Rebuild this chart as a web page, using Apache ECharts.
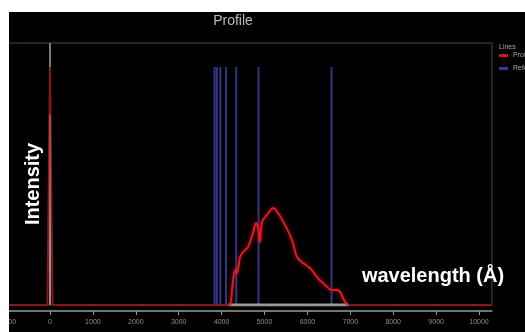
<!DOCTYPE html>
<html>
<head>
<meta charset="utf-8">
<script src="https://cdn.jsdelivr.net/npm/echarts@6/dist/echarts.min.js"></script>
<style>
  html, body { margin: 0; padding: 0; background: #fff; }
  #profile { position: absolute; left: 9px; top: 12px; width: 516px; height: 320px; background: #000; }
</style>
</head>
<body>
<div id="profile"></div>
<script>
// 波长刻度
var tickValues = [-1000, 0, 1000, 2000, 3000, 4000, 5000, 6000, 7000, 8000, 9000, 10000];

// Profile: 0 处的尖峰 + 基线
var baseWave = [-1000, -60, 0, 60, 4150, 7000, 10300];
var baseInt = [0, 0, 0.908, 0, 0, 0, 0];

// Profile: 发射轮廓
var curveWave = [4150, 4196, 4250, 4312, 4359, 4429, 4499, 4615, 4732, 4802, 4848, 4895, 4942, 5058, 5198, 5315, 5478, 5641, 5758, 5897, 6061, 6224, 6410, 6573, 6690, 6760, 6830, 6923];
var curveInt = [0, 0, 0.07, 0.134, 0.122, 0.183, 0.202, 0.221, 0.275, 0.313, 0.298, 0.24, 0.317, 0.344, 0.37, 0.351, 0.305, 0.248, 0.183, 0.16, 0.141, 0.107, 0.076, 0.057, 0.057, 0.05, 0.027, 0];

// Reference: 巴尔末线
var refLines = [3835, 3889, 3970, 4102, 4341, 4861, 6563];
var refTop = 0.908;

// 灰色 (连续谱)
var greyWave = [0, 0];
var greyInt = [0, 1];
var greyBandWave = [4150, 6950];

function zip(xs, ys) {
  var out = [];
  for (var i = 0; i < xs.length; i++) out.push([xs[i], ys[i]]);
  return out;
}

var refData = [];
refLines.forEach(function (w) {
  refData.push([w, 0], [w, refTop], [w, "-"]);
});

var myChart = echarts.init(document.getElementById("profile"));
window.addEventListener("resize", myChart.resize);

var option = {
  backgroundColor: "#000",
  animation: false,
  grid: {
    show: true,
    left: -1.9,
    right: 33.1,
    top: 31,
    bottom: 27,
    outerBoundsMode: "none",
    containLabel: false,
    borderColor: "#1f3d22",
    borderWidth: 1.5,
    backgroundColor: "transparent",
  },
  legend: {
    data: ["Profile", "Reference"],
    orient: "vertical",
    left: 490,
    top: 40,
    padding: 0,
    itemWidth: 9,
    itemHeight: 3,
    itemGap: 6,
    icon: "rect",
    textStyle: { color: "#aaa", fontSize: 7, fontFamily: "Liberation Sans" },
  },
  graphic: [
    {
      type: "text",
      x: 224,
      y: 9.5,
      style: { text: "Profile", fill: "#bbb", font: "14px 'Liberation Sans'", align: "center", verticalAlign: "middle" },
    },
    {
      type: "text",
      x: 490,
      y: 35,
      style: { text: "Lines", fill: "#aaa", font: "7px 'Liberation Sans'", align: "left", verticalAlign: "middle" },
    },
    {
      type: "text",
      x: 24,
      y: 172,
      rotation: Math.PI / 2,
      style: { text: "Intensity", fill: "#fff", font: "bold 20px 'Liberation Sans'", align: "center", verticalAlign: "middle" },
      z: 100,
    },
    {
      type: "text",
      x: 424,
      y: 264,
      style: { text: "wavelength (Å)", fill: "#fff", font: "bold 20px 'Liberation Sans'", align: "center", verticalAlign: "middle" },
      z: 100,
    },
  ],
  xAxis: {
    type: "value",
    min: -1000,
    max: 10300,
    offset: 6,
    splitLine: { show: false },
    axisLine: { onZero: false, lineStyle: { color: "#999", width: 1.5 } },
    axisTick: { customValues: tickValues, length: 4, lineStyle: { color: "#999" } },
    axisLabel: {
      customValues: tickValues,
      color: "#8e8e8e",
      fontSize: 7,
      margin: 8,
      fontFamily: "Liberation Sans",
      formatter: function (v) { return String(v); },
    },
  },
  yAxis: {
    type: "value",
    min: 0,
    max: 1,
    show: false,
  },
  series: [
    {
      name: "Grey",
      type: "line",
      symbol: "none",
      z: 1,
      data: zip(greyWave, greyInt),
      lineStyle: { color: "#7a7a7a", width: 2 },
    },
    {
      name: "Reference",
      type: "line",
      symbol: "none",
      z: 2,
      color: "#3a3a90",
      data: refData,
      lineStyle: { color: "#3a3a92", width: 2, opacity: 0.9 },
    },
    {
      name: "Profile",
      type: "line",
      symbol: "none",
      z: 3,
      color: "#d01818",
      data: zip(baseWave, baseInt),
      lineStyle: { color: "#861818", width: 2 },
    },
    {
      name: "GreyBand",
      type: "line",
      symbol: "none",
      z: 4,
      data: [[greyBandWave[0], 0], [greyBandWave[1], 0]],
      lineStyle: { color: "#9a9a9a", width: 3 },
    },
    {
      name: "Profile",
      type: "line",
      symbol: "none",
      z: 5,
      color: "#d01818",
      smooth: 0.3,
      data: zip(curveWave, curveInt),
      lineStyle: { color: "#e01a1e", width: 2, shadowColor: "rgba(255,30,30,0.6)", shadowBlur: 4 },
    },
    {
      name: "GreyOverlay",
      type: "line",
      symbol: "none",
      z: 6,
      data: [[0, 0], [0, 0.725]],
      lineStyle: { color: "rgba(230,170,170,0.45)", width: 1.5 },
    },
  ],
};

myChart.setOption(option);
</script>
</body>
</html>
